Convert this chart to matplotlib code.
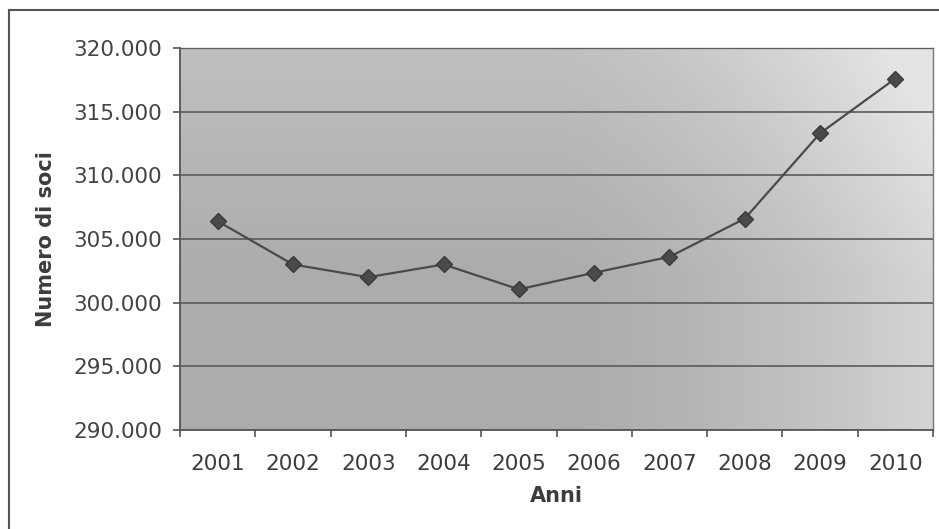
import matplotlib
matplotlib.use("Agg")
import matplotlib.pyplot as plt
import numpy as np
from matplotlib.lines import Line2D
from matplotlib.ticker import FuncFormatter, FixedLocator
from matplotlib.colors import LinearSegmentedColormap

years = ["2001", "2002", "2003", "2004", "2005", "2006", "2007", "2008", "2009", "2010"]
soci = [306400, 303000, 302000, 303000, 301050, 302350, 303600, 306600, 313300, 317600]
y_ticks = [290000, 295000, 300000, 305000, 310000, 315000, 320000]

plt.rcParams['font.family'] = ['DejaVu Sans']

fig = plt.figure(figsize=(9.39, 5.29), dpi=100)
fig.patch.set_facecolor('white')
ax = fig.add_axes([180/939, 1-430/529, (933-180)/939, (430-48)/529])

# gradient background (styling only)
gx = np.linspace(0, 1, 200)
gy = np.linspace(0, 1, 120)
GX, GY = np.meshgrid(gx, gy)
val = 0.6*np.clip((GX-0.5)/0.5, 0, 1)**1.4 + 0.3*np.clip((GY-0.4)/0.6, 0, 1)
cmap = LinearSegmentedColormap.from_list('bg', ['#acacac', '#c6c6c6', '#e4e4e4'])
ax.imshow(val, extent=[-0.5, len(years)-0.5, 290000, 320000], origin='lower',
          aspect='auto', cmap=cmap, vmin=0, vmax=0.8, zorder=0, interpolation='bilinear')

x = np.arange(len(years))
ax.plot(x, soci, color='#4a4a4a', lw=1.6, marker='D', markersize=8,
        markerfacecolor='#4a4a4a', markeredgecolor='#3a3a3a', zorder=3)

ax.set_xlim(-0.5, len(years)-0.5)
ax.set_ylim(290000, 320000)
ax.set_yticks(y_ticks)
ax.yaxis.set_major_formatter(FuncFormatter(lambda v, p: f"{int(v):,}".replace(",", ".")))
ax.grid(axis='y', color='#5a5a5a', lw=1.2, zorder=1)
ax.set_axisbelow(False)

ax.set_xticks(x)
ax.set_xticklabels(years)
ax.xaxis.set_minor_locator(FixedLocator(np.arange(-0.5, len(years), 1.0)))
ax.tick_params(axis='x', which='major', length=0, pad=17, labelsize=15.5, labelcolor='#3c3c3c')
ax.tick_params(axis='x', which='minor', length=5, width=1.2, color='#555555')
ax.tick_params(axis='y', which='major', length=5, width=1.2, color='#555555', pad=8,
               labelsize=15.5, labelcolor='#444444')

for s in ['left', 'bottom']:
    ax.spines[s].set_color('#555555')
    ax.spines[s].set_linewidth(1.3)
for s in ['top', 'right']:
    ax.spines[s].set_color('#777777')
    ax.spines[s].set_linewidth(1.0)

ax.set_xlabel("Anni", fontsize=15, fontweight='bold', color='#3c3c3c', labelpad=9)
ax.set_ylabel("Numero di soci", fontsize=15, fontweight='bold', color='#3c3c3c', labelpad=12)

# outer chart frame (cropped on right/bottom)
fig.add_artist(Line2D([9/939, 9/939], [0, 1-10/529], transform=fig.transFigure,
                      color='#555555', lw=1.5))
fig.add_artist(Line2D([9/939, 1], [1-10/529, 1-10/529], transform=fig.transFigure,
                      color='#555555', lw=1.5))

fig.savefig("out.png", dpi=100)
